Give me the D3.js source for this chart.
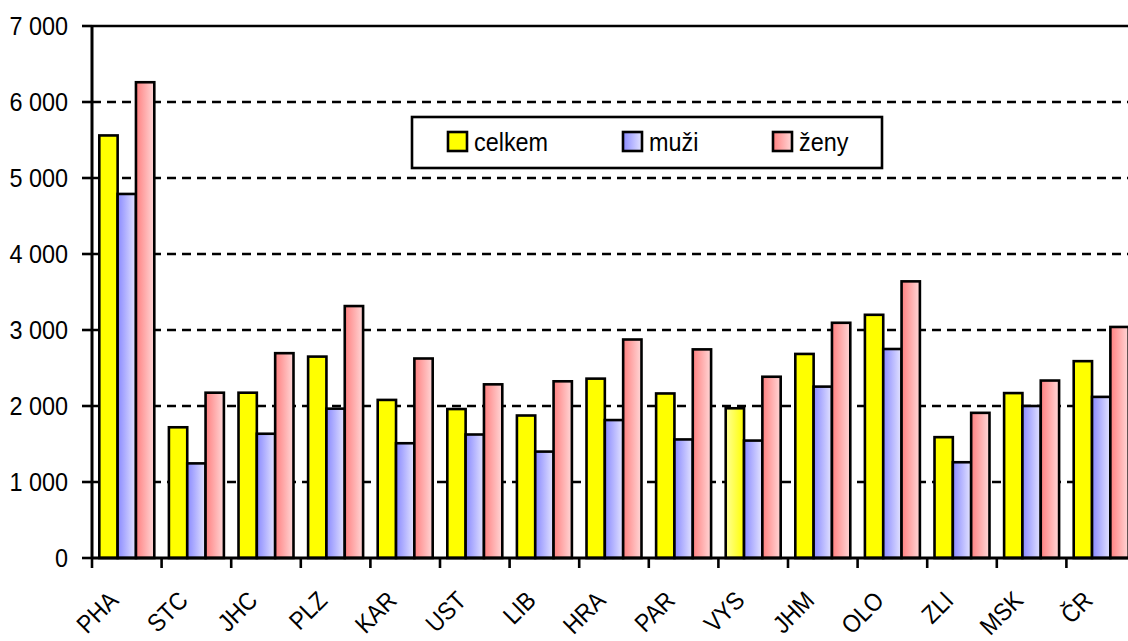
<!DOCTYPE html>
<html><head><meta charset="utf-8">
<script src="https://cdn.jsdelivr.net/npm/d3@7"></script>
<style>
html,body{margin:0;padding:0;background:#fff;}
svg{display:block;}
text{font-family:Arial,"Liberation Sans",sans-serif;fill:#000;}
</style></head>
<body>
<svg id="chart" width="1128" height="641"></svg>
<script>
const categories = ["PHA","STC","JHC","PLZ","KAR","UST","LIB","HRA","PAR","VYS","JHM","OLO","ZLI","MSK","ČR"];
const celkem = [5560,1720,2175,2650,2080,1960,1875,2360,2165,1970,2685,3200,1590,2170,2590];
const muzi   = [4790,1245,1635,1965,1510,1625,1400,1815,1560,1545,2255,2750,1260,2000,2120];
const zeny   = [6260,2175,2695,3315,2625,2285,2325,2875,2745,2385,3095,3640,1910,2335,3040];
const seriesNames = ["celkem","muži","ženy"];
const yTicks = [0,1000,2000,3000,4000,5000,6000,7000];
const yTickLabels = ["0","1 000","2 000","3 000","4 000","5 000","6 000","7 000"];
const highlighted = "VYS";

(function(){
const svg = d3.select("#chart");
const defs = svg.append("defs");
function grad(id, c1, c2){
  const g = defs.append("linearGradient").attr("id", id).attr("x1","0").attr("x2","1").attr("y1","0").attr("y2","0");
  g.append("stop").attr("offset","0").attr("stop-color",c1);
  g.append("stop").attr("offset","1").attr("stop-color",c2);
}
grad("gBlue","#8a8aff","#e4e4ff");
grad("gPink","#ff8080","#ffd8d8");
grad("gYel","#ffff99","#ffff00");
const fills = ["#ffff00","url(#gBlue)","url(#gPink)"];
const seriesData = [celkem, muzi, zeny];

const mLeft = 92, mTop = 26, mBottom = 558, mRight = 1136;
const y = d3.scaleLinear().domain([0,7000]).range([mBottom, mTop]);
const x0 = d3.scaleBand().domain(categories).range([mLeft, mRight]).padding(0);
const bw = x0.bandwidth();
const x1 = d3.scaleBand().domain(seriesNames).range([bw*0.105, bw*0.895]).padding(0);
const TS = 0.9;

svg.append("g").selectAll("line").data(yTicks.filter(d=>d>0)).join("line")
  .attr("x1", mLeft).attr("x2", 1128)
  .attr("y1", d=>y(d)).attr("y2", d=>y(d))
  .attr("stroke","#000").attr("stroke-width",2.6)
  .attr("stroke-dasharray", d=> d===7000 ? null : "9,6");

const groups = svg.append("g").selectAll("g").data(categories).join("g")
  .attr("transform", c=>`translate(${x0(c)},0)`);
groups.selectAll("rect").data((c,i)=>seriesNames.map((s,k)=>({c,s,k,v:seriesData[k][i]}))).join("rect")
  .attr("x", d=>x1(d.s)).attr("width", x1.bandwidth())
  .attr("y", d=>y(d.v)).attr("height", d=>y(0)-y(d.v))
  .attr("fill", d=> (d.k===0 && d.c===highlighted) ? "url(#gYel)" : fills[d.k])
  .attr("stroke","#000").attr("stroke-width",2.6);

const yAxis = svg.append("g");
yAxis.append("line").attr("x1",mLeft).attr("x2",mLeft).attr("y1",mTop-1).attr("y2",mBottom+1)
  .attr("stroke","#000").attr("stroke-width",3);
yAxis.selectAll("line.t").data(yTicks).join("line").attr("class","t")
  .attr("x1",mLeft-10).attr("x2",mLeft).attr("y1",d=>y(d)).attr("y2",d=>y(d))
  .attr("stroke","#000").attr("stroke-width",2.6);
yAxis.selectAll("text").data(yTicks).join("text")
  .attr("transform", d=>`translate(${mLeft-24},${y(d)}) scale(${TS},1)`)
  .attr("text-anchor","end").attr("dy","0.36em")
  .style("font-size","26px")
  .text((d,i)=>yTickLabels[i]);

const xAxis = svg.append("g");
xAxis.append("line").attr("x1",mLeft).attr("x2",1128).attr("y1",mBottom).attr("y2",mBottom)
  .attr("stroke","#000").attr("stroke-width",3);
xAxis.selectAll("line.t").data(categories).join("line").attr("class","t")
  .attr("x1",c=>x0(c)).attr("x2",c=>x0(c)).attr("y1",mBottom).attr("y2",mBottom+10)
  .attr("stroke","#000").attr("stroke-width",2.6);
xAxis.selectAll("text").data(categories).join("text")
  .attr("transform", c=>`translate(${x0(c)+bw/2-7},${mBottom+44}) rotate(-45) scale(${TS},1)`)
  .attr("text-anchor","end")
  .style("font-size","25px")
  .text(c=>c);

const lg = svg.append("g");
lg.append("rect").attr("x",412).attr("y",117).attr("width",470).attr("height",51)
  .attr("fill","#fff").attr("stroke","#000").attr("stroke-width",2.6);
const legX = [448, 623, 773];
seriesNames.forEach((s,k)=>{
  lg.append("rect").attr("x",legX[k]).attr("y",132).attr("width",19).attr("height",19)
    .attr("fill",fills[k]).attr("stroke","#000").attr("stroke-width",2.6);
  lg.append("text").attr("transform",`translate(${legX[k]+26},150.5) scale(${TS},1)`)
    .style("font-size","26px").text(s);
});
})();
</script>
</body></html>
